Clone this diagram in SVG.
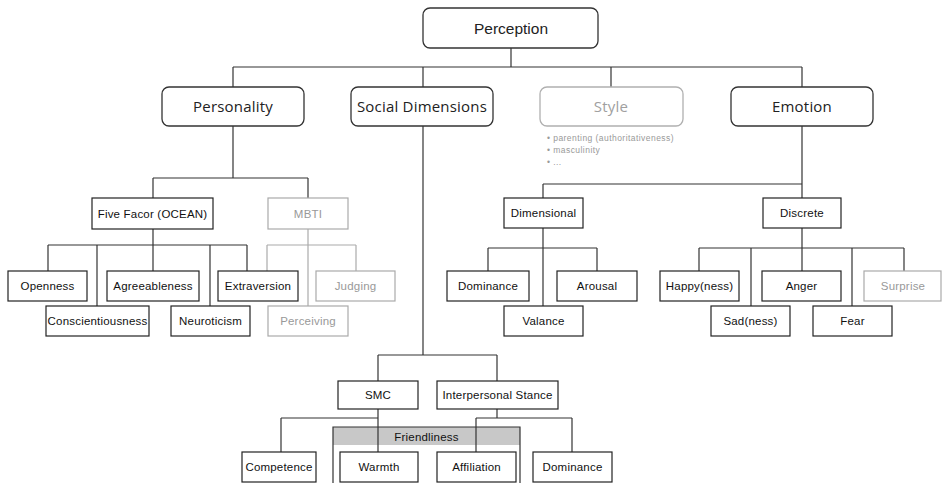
<svg xmlns="http://www.w3.org/2000/svg" width="942" height="483" viewBox="0 0 942 483">
  <style>
    .bg { fill: #ffffff; }
    .top { fill: #ffffff; stroke: #333333; stroke-width: 1.3; }
    .top-dim { fill: #ffffff; stroke: #b0b0b0; stroke-width: 1.3; }
    .box { fill: #ffffff; stroke: #222222; stroke-width: 1.2; }
    .box-dim { fill: #ffffff; stroke: #aaaaaa; stroke-width: 1.2; }
    .t1 { font-family: "Open Sans", "DejaVu Sans", sans-serif; font-size: 15px; letter-spacing: 0.2px; fill: #222222; text-anchor: middle; }
    .t0 { font-family: "Liberation Sans", Arial, sans-serif; font-size: 15.5px; fill: #222222; text-anchor: middle; }
    .t1-dim { fill: #a0a0a0; }
    .t2 { font-family: "Liberation Sans", Arial, sans-serif; font-size: 11.5px; letter-spacing: 0.2px; fill: #111111; text-anchor: middle; }
    .t2-dim { fill: #999999; }
    .note { font-family: "Liberation Sans", Arial, sans-serif; font-size: 8.5px; letter-spacing: 0.45px; fill: #999999; }
    .links line { stroke: #333333; stroke-width: 1.2; }
    .links .dim { stroke: #aaaaaa; }
  </style>
  <rect class="bg" x="0" y="0" width="942" height="483"/>

  <!-- Friendliness grouping frame -->
  <g id="friendliness">
    <rect x="333" y="427" width="187" height="18" fill="#c8c8c8" stroke="none"/>
    <path d="M333 483 V427 H520 V483" fill="none" stroke="#333333" stroke-width="1.2"/>
    <text class="t2" x="426.5" y="440.5">Friendliness</text>
  </g>

  <!-- connectors -->
  <g id="connectors" class="links">
    <line x1="511" y1="48" x2="511" y2="67"/>
    <line x1="233" y1="67" x2="802" y2="67"/>
    <line x1="233" y1="67" x2="233" y2="87"/>
    <line x1="423" y1="67" x2="423" y2="87"/>
    <line x1="611" y1="67" x2="611" y2="87"/>
    <line x1="802" y1="67" x2="802" y2="87"/>

    <line x1="233" y1="126" x2="233" y2="178"/>
    <line x1="153" y1="178" x2="308" y2="178"/>
    <line x1="153" y1="178" x2="153" y2="198"/>
    <line x1="308" y1="178" x2="308" y2="198"/>

    <line x1="153" y1="229" x2="153" y2="271"/>
    <line x1="48" y1="245" x2="247" y2="245"/>
    <line x1="48" y1="245" x2="48" y2="271"/>
    <line x1="97" y1="245" x2="97" y2="306"/>
    <line x1="210" y1="245" x2="210" y2="306"/>
    <line x1="247" y1="245" x2="247" y2="271"/>

    <line class="dim" x1="308" y1="229" x2="308" y2="306"/>
    <line class="dim" x1="267" y1="245" x2="356" y2="245"/>
    <line class="dim" x1="267" y1="245" x2="267" y2="271"/>
    <line class="dim" x1="356" y1="245" x2="356" y2="271"/>

    <line x1="423" y1="126" x2="423" y2="355"/>
    <line x1="378" y1="355" x2="497" y2="355"/>
    <line x1="378" y1="355" x2="378" y2="381"/>
    <line x1="497" y1="355" x2="497" y2="381"/>

    <line x1="378" y1="409" x2="378" y2="452"/>
    <line x1="281" y1="418" x2="378" y2="418"/>
    <line x1="281" y1="418" x2="281" y2="452"/>

    <line x1="497" y1="409" x2="497" y2="418"/>
    <line x1="476" y1="418" x2="572" y2="418"/>
    <line x1="476" y1="418" x2="476" y2="452"/>
    <line x1="572" y1="418" x2="572" y2="452"/>

    <line x1="802" y1="126" x2="802" y2="198"/>
    <line x1="543" y1="184" x2="802" y2="184"/>
    <line x1="543" y1="184" x2="543" y2="198"/>

    <line x1="543" y1="228" x2="543" y2="306"/>
    <line x1="488" y1="248" x2="597" y2="248"/>
    <line x1="488" y1="248" x2="488" y2="271"/>
    <line x1="597" y1="248" x2="597" y2="271"/>

    <line x1="802" y1="228" x2="802" y2="271"/>
    <line x1="699" y1="248" x2="904" y2="248"/>
    <line x1="699" y1="248" x2="699" y2="271"/>
    <line x1="751" y1="248" x2="751" y2="306"/>
    <line x1="852" y1="248" x2="852" y2="306"/>
    <line x1="904" y1="248" x2="904" y2="271"/>
  </g>

  <!-- root -->
  <g id="perception">
    <rect class="top" x="423" y="8" width="175" height="40" rx="7"/>
    <text class="t0" x="511" y="33.5">Perception</text>
  </g>

  <!-- first level -->
  <g id="personality">
    <rect class="top" x="162" y="87" width="142" height="39" rx="7"/>
    <text class="t1" x="233" y="112">Personality</text>
  </g>
  <g id="social-dimensions">
    <rect class="top" x="351" y="87" width="142" height="39" rx="7"/>
    <text class="t1" x="422" y="112">Social Dimensions</text>
  </g>
  <g id="style">
    <rect class="top-dim" x="540" y="87" width="143" height="39" rx="7"/>
    <text class="t1 t1-dim" x="611" y="112">Style</text>
    <text class="note" x="547" y="141">• parenting (authoritativeness)</text>
    <text class="note" x="547" y="153">• masculinity</text>
    <text class="note" x="547" y="165">• ...</text>
  </g>
  <g id="emotion">
    <rect class="top" x="731" y="87" width="142" height="39" rx="7"/>
    <text class="t1" x="802" y="112">Emotion</text>
  </g>

  <!-- personality branch -->
  <g id="five-factor">
    <rect class="box" x="92" y="198" width="121" height="31"/>
    <text class="t2" x="152.5" y="217.5">Five Facor (OCEAN)</text>
  </g>
  <g id="mbti">
    <rect class="box-dim" x="268" y="198" width="80" height="31"/>
    <text class="t2 t2-dim" x="308" y="217.5">MBTI</text>
  </g>
  <g id="openness">
    <rect class="box" x="8" y="271" width="79" height="30"/>
    <text class="t2" x="47.5" y="290">Openness</text>
  </g>
  <g id="agreeableness">
    <rect class="box" x="107" y="271" width="92" height="30"/>
    <text class="t2" x="153" y="290">Agreeableness</text>
  </g>
  <g id="extraversion">
    <rect class="box" x="218" y="271" width="80" height="30"/>
    <text class="t2" x="258" y="290">Extraversion</text>
  </g>
  <g id="judging">
    <rect class="box-dim" x="316" y="271" width="79" height="30"/>
    <text class="t2 t2-dim" x="355.5" y="290">Judging</text>
  </g>
  <g id="conscientiousness">
    <rect class="box" x="46" y="306" width="103" height="30"/>
    <text class="t2" x="97.5" y="325">Conscientiousness</text>
  </g>
  <g id="neuroticism">
    <rect class="box" x="171" y="306" width="79" height="30"/>
    <text class="t2" x="210.5" y="325">Neuroticism</text>
  </g>
  <g id="perceiving">
    <rect class="box-dim" x="268" y="306" width="80" height="30"/>
    <text class="t2 t2-dim" x="308" y="325">Perceiving</text>
  </g>

  <!-- social dimensions branch -->
  <g id="smc">
    <rect class="box" x="338" y="381" width="80" height="28"/>
    <text class="t2" x="378" y="399">SMC</text>
  </g>
  <g id="interpersonal-stance">
    <rect class="box" x="437" y="381" width="121" height="28"/>
    <text class="t2" x="497.5" y="399">Interpersonal Stance</text>
  </g>
  <g id="competence">
    <rect class="box" x="242" y="452" width="74" height="30"/>
    <text class="t2" x="279" y="471">Competence</text>
  </g>
  <g id="warmth">
    <rect class="box" x="340" y="452" width="78" height="30"/>
    <text class="t2" x="379" y="471">Warmth</text>
  </g>
  <g id="affiliation">
    <rect class="box" x="437" y="452" width="79" height="30"/>
    <text class="t2" x="476.5" y="471">Affiliation</text>
  </g>
  <g id="dominance-stance">
    <rect class="box" x="533" y="452" width="79" height="30"/>
    <text class="t2" x="572.5" y="471">Dominance</text>
  </g>

  <!-- emotion branch -->
  <g id="dimensional">
    <rect class="box" x="504" y="198" width="79" height="30"/>
    <text class="t2" x="543.5" y="217">Dimensional</text>
  </g>
  <g id="discrete">
    <rect class="box" x="763" y="198" width="78" height="30"/>
    <text class="t2" x="802" y="217">Discrete</text>
  </g>
  <g id="dominance-emotion">
    <rect class="box" x="447" y="271" width="82" height="30"/>
    <text class="t2" x="488" y="290">Dominance</text>
  </g>
  <g id="arousal">
    <rect class="box" x="557" y="271" width="80" height="30"/>
    <text class="t2" x="597" y="290">Arousal</text>
  </g>
  <g id="valance">
    <rect class="box" x="504" y="306" width="79" height="30"/>
    <text class="t2" x="543.5" y="325">Valance</text>
  </g>
  <g id="happiness">
    <rect class="box" x="660" y="271" width="79" height="30"/>
    <text class="t2" x="699.5" y="290">Happy(ness)</text>
  </g>
  <g id="anger">
    <rect class="box" x="762" y="271" width="79" height="30"/>
    <text class="t2" x="801.5" y="290">Anger</text>
  </g>
  <g id="surprise">
    <rect class="box-dim" x="864" y="271" width="77" height="30"/>
    <text class="t2 t2-dim" x="903" y="290">Surprise</text>
  </g>
  <g id="sadness">
    <rect class="box" x="711" y="306" width="79" height="30"/>
    <text class="t2" x="750.5" y="325">Sad(ness)</text>
  </g>
  <g id="fear">
    <rect class="box" x="813" y="306" width="79" height="30"/>
    <text class="t2" x="852.5" y="325">Fear</text>
  </g>
</svg>
